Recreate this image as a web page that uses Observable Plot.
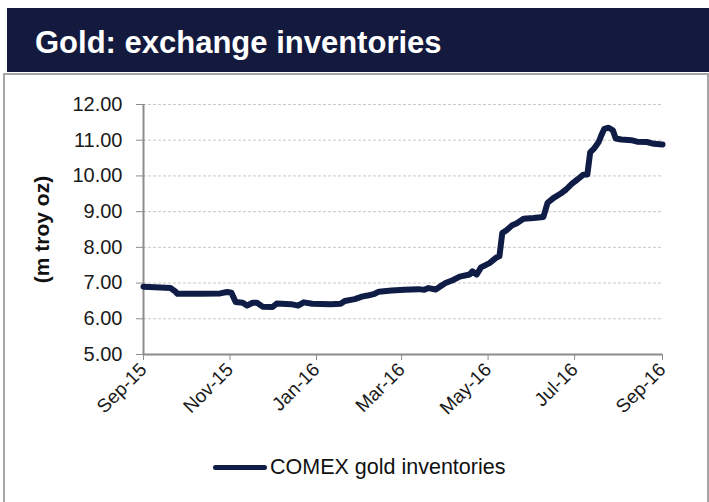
<!DOCTYPE html>
<html>
<head>
<meta charset="utf-8">
<script src="https://cdn.jsdelivr.net/npm/d3@7"></script>
<script src="https://cdn.jsdelivr.net/npm/@observablehq/plot@0.6"></script>
<style>
  html, body { margin: 0; padding: 0; background: #fff; }
  body { width: 709px; height: 502px; position: relative; overflow: hidden; font-family: "Liberation Sans", Arial, sans-serif; }
  #banner { position: absolute; left: 7px; top: 8px; width: 702px; height: 64px; background: #131a3e; }
  #banner h1 { margin: 0; position: absolute; left: 28px; top: 17px; color: #fff; font-size: 31px; line-height: 36px; font-weight: bold; letter-spacing: 0; white-space: nowrap; }
  #box { position: absolute; left: 3px; top: 73px; width: 702px; height: 440px; border: 2px solid #a6a6a6; border-bottom: none; }
  #chart { position: absolute; left: 4px; top: 75px; }
  #legend { position: absolute; left: 213px; top: 455px; display: flex; align-items: center; font-size: 21.5px; color: #111; }
  #legend .sw { width: 54px; height: 5px; border-radius: 3px; background: #0f1c45; margin-right: 3px; }
</style>
</head>
<body>
<div id="banner"><h1>Gold: exchange inventories</h1></div>
<div id="box"></div>
<div id="chart"></div>
<div id="legend"><span class="sw"></span><span id="legtext"></span></div>
<script>
const seriesName = "COMEX gold inventories";
const yLabel = "(m troy oz)";
const yTicks = [5, 6, 7, 8, 9, 10, 11, 12];
const xTickDates = ["2015-09-01", "2015-11-01", "2016-01-01", "2016-03-01", "2016-05-01", "2016-07-01", "2016-09-01"];
const dates = [
  "2015-09-01","2015-09-09","2015-09-20","2015-09-23","2015-09-25","2015-10-11","2015-10-25","2015-10-30",
  "2015-11-02","2015-11-05","2015-11-10","2015-11-13","2015-11-17","2015-11-20","2015-11-24","2015-12-01",
  "2015-12-04","2015-12-14","2015-12-19","2015-12-23","2015-12-29","2016-01-11","2016-01-18","2016-01-21",
  "2016-01-28","2016-02-02","2016-02-06","2016-02-11","2016-02-14","2016-02-23","2016-03-03","2016-03-13",
  "2016-03-17","2016-03-20","2016-03-25","2016-03-28","2016-04-01","2016-04-06","2016-04-11","2016-04-18",
  "2016-04-20","2016-04-23","2016-04-26","2016-05-02","2016-05-07","2016-05-09","2016-05-11","2016-05-14",
  "2016-05-18","2016-05-21","2016-05-26","2016-06-02","2016-06-09","2016-06-12","2016-06-16","2016-06-21",
  "2016-06-25","2016-06-29","2016-07-03","2016-07-07","2016-07-10","2016-07-12","2016-07-15","2016-07-18",
  "2016-07-20","2016-07-22","2016-07-25","2016-07-28","2016-07-30","2016-08-03","2016-08-10","2016-08-14",
  "2016-08-21","2016-08-26","2016-09-01"
];
const values = [
  6.90,6.88,6.86,6.78,6.70,6.70,6.71,6.75,
  6.73,6.47,6.45,6.37,6.45,6.45,6.34,6.33,
  6.43,6.41,6.37,6.46,6.42,6.41,6.42,6.50,
  6.55,6.62,6.65,6.70,6.76,6.79,6.81,6.83,
  6.81,6.86,6.82,6.90,7.00,7.08,7.18,7.24,
  7.33,7.24,7.44,7.56,7.72,7.75,8.40,8.48,
  8.62,8.67,8.80,8.82,8.85,9.25,9.38,9.50,
  9.62,9.78,9.90,10.03,10.04,10.66,10.78,10.95,
  11.15,11.32,11.35,11.28,11.05,11.02,11.00,10.96,
  10.95,10.90,10.88
];

document.getElementById("legtext").textContent = seriesName;

const data = dates.map((d, i) => ({date: new Date(d), value: values[i]}));
const xTicks = xTickDates.map(d => new Date(d));
const fmt = d3.utcFormat("%b-%y");

const chart = Plot.plot({
  width: 700,
  height: 360,
  marginLeft: 139,
  marginTop: 29,
  marginBottom: 81,
  marginRight: 42,
  style: {fontFamily: "'Liberation Sans', Arial, sans-serif", fontSize: "19px", color: "#1a1a1a", background: "transparent", overflow: "visible"},
  x: {type: "utc", domain: [xTicks[0], xTicks[xTicks.length - 1]]},
  y: {domain: [yTicks[0], yTicks[yTicks.length - 1]]},
  marks: [
    Plot.gridY(yTicks.slice(1), {stroke: "#c8c8c8", strokeOpacity: 1, strokeDasharray: "3,2"}),
    Plot.ruleY([yTicks[0]], {stroke: "#8c8c8c", strokeWidth: 2}),
    Plot.ruleX([xTicks[0]], {stroke: "#8c8c8c", strokeWidth: 2}),
    Plot.axisY(yTicks, {tickFormat: d => d.toFixed(2), tickSize: 7, tickPadding: 14, stroke: "#8c8c8c", fill: "#1a1a1a", label: null, fontSize: 20}),
    Plot.axisX(xTicks, {tickFormat: fmt, tickRotate: -45, tickSize: 6, tickPadding: 6, stroke: "#8c8c8c", fill: "#1a1a1a", label: null, fontSize: 19}),
    Plot.text([yLabel], {text: d => d, frameAnchor: "left", textAnchor: "middle", rotate: -90, dx: -101, fontWeight: "bold", fontSize: 21, fill: "#111"}),
    Plot.lineY(data, {x: "date", y: "value", stroke: "#0f1c45", strokeWidth: 6, strokeLinejoin: "round", strokeLinecap: "round"})
  ]
});
document.getElementById("chart").appendChild(chart);
</script>
</body>
</html>
